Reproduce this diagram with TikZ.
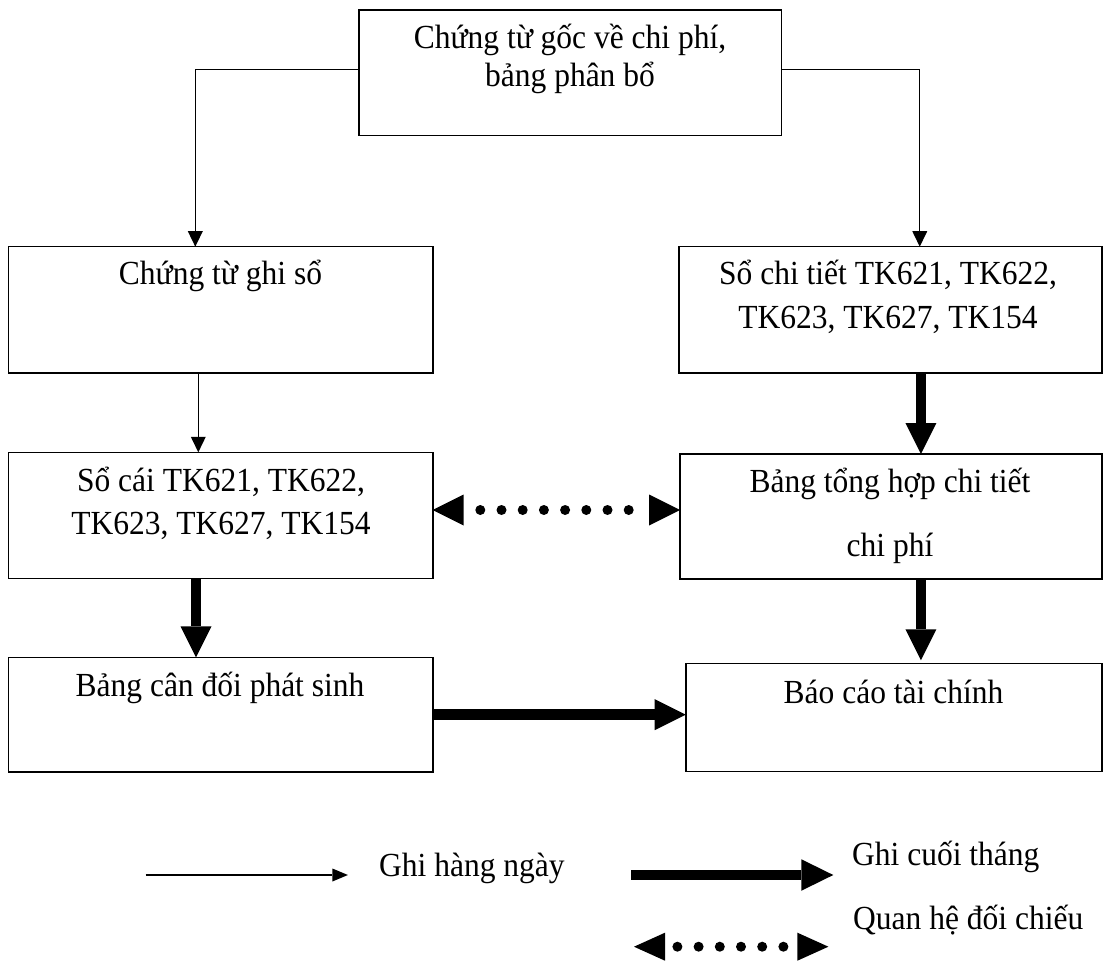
\documentclass[tikz,border=0pt]{standalone}
\usepackage{fontspec}
\setmainfont{Liberation Serif}
\usetikzlibrary{arrows.meta}
% slightly taller lettering
\newcommand\tallword[1]{\scalebox{1}[1.07]{#1}}
\begin{document}
\begin{tikzpicture}[x=1pt,y=-1pt,
  box/.style={draw, line width=1.6pt, rectangle, inner sep=0pt, outer sep=0pt},
  txt/.style={anchor=base, inner sep=0pt, font=\fontsize{31.5}{38}\selectfont},
  daily/.style={line width=1.3pt, -{Triangle[length=15.5pt,width=15pt,line width=0pt]}},
  monthly/.style={line width=10.5pt, -{Triangle[length=31pt,width=31pt,line width=0pt]}},
  crosscheck/.style={line width=10pt, line cap=round,
    dash pattern=on 0pt off 21.2pt, dash phase=#1,
    {Triangle[length=31pt,width=31pt,line width=0pt]}-{Triangle[length=31pt,width=31pt,line width=0pt]}},
]
\useasboundingbox (0,0) rectangle (1106,968);

% boxes
\node[box, minimum width=422.6pt, minimum height=125.7pt] (src)   at (570,72.85)   {};
\node[box, minimum width=424.4pt, minimum height=126pt]   (ctgs)  at (220.5,309.7) {};
\node[box, minimum width=422.7pt, minimum height=126pt]   (sct)   at (890.35,309.7) {};
\node[box, minimum width=424.4pt, minimum height=126pt]   (socai) at (220.5,515.3) {};
\node[box, minimum width=421.7pt, minimum height=125pt]   (bth)   at (890.85,516.5) {};
\node[box, minimum width=424.4pt, minimum height=114.7pt] (bcd)   at (220.5,714.65) {};
\node[box, minimum width=416pt,   minimum height=108pt]   (bctc)  at (893.7,717.3) {};

% box texts
\node[txt] (src1)  at (570,48.3)  {\tallword{Chứng từ gốc về chi phí,}};
\node[txt] (src2)  at (570,86.7)  {\tallword{bảng phân bổ}};
\node[txt] (ctgs1) at (220.5,285) {\tallword{Chứng từ ghi sổ}};
\node[txt] (sct1)  at (888,285)   {\tallword{Sổ chi tiết TK621, TK622,}};
\node[txt] (sct2)  at (888,328.3) {\tallword{TK623, TK627, TK154}};
\node[txt] (sc1)   at (221,491.7) {\tallword{Sổ cái TK621, TK622,}};
\node[txt] (sc2)   at (221,534)   {\tallword{TK623, TK627, TK154}};
\node[txt] (bth1)  at (890,492.7) {\tallword{Bảng tổng hợp chi tiết}};
\node[txt] (bth2)  at (890,556.7) {\tallword{chi phí}};
\node[txt] (bcd1)  at (220,696.7) {\tallword{Bảng cân đối phát sinh}};
\node[txt] (bctc1) at (893.5,703.3) {\tallword{Báo cáo tài chính}};

% connectors
\draw[daily] ([yshift=3.5pt]src.west) -| ([xshift=-25.2pt]ctgs.north);
\draw[daily] ([yshift=3.5pt]src.east) -| ([xshift=29.4pt]sct.north);
\draw[daily] ([xshift=-22.2pt]ctgs.south) -- ([xshift=-22.2pt]ctgs.south |- socai.north);
\draw[monthly] ([xshift=30.6pt]sct.south) -- ([xshift=30.6pt]sct.south |- bth.north);
\draw[monthly] ([xshift=30.1pt]bth.south) -- ([xshift=30.1pt,yshift=3pt]bth.south |- bctc.north);
\draw[monthly] ([xshift=-24.5pt]socai.south) -- ([xshift=-24.5pt]socai.south |- bcd.north);
\draw[monthly] (bcd.east) -- (bcd.east -| bctc.west);
\draw[crosscheck=4.6pt] ([yshift=5.3pt]socai.east) -- ([yshift=5.3pt]socai.east -| bth.west);

% legend
\coordinate (d1) at (145.6,875);
\coordinate (d2) at (347.9,875);
\draw[daily, -{Triangle[length=15.5pt,width=13pt,line width=0pt]}] (d1) -- (d2);
\node[txt, anchor=base west] (tdaily) at (379,876) {\tallword{Ghi hàng ngày}};

\coordinate (m1) at (631,875);
\coordinate (m2) at (833.3,875);
\draw[monthly, -{Triangle[length=32pt,width=31.5pt,line width=0pt]}] (m1) -- (m2);
\node[txt, anchor=base west] (tmonthly) at (852,865) {\tallword{Ghi cuối tháng}};

\coordinate (c1) at (634,946.7);
\coordinate (c2) at (828.4,946.7);
\draw[crosscheck=8.8pt, {Triangle[length=31pt,width=28pt,line width=0pt]}-{Triangle[length=31pt,width=28pt,line width=0pt]}] (c1) -- (c2);
\node[txt, anchor=base west] (tcross) at (853,929) {\tallword{Quan hệ đối chiếu}};
\end{tikzpicture}
\end{document}
